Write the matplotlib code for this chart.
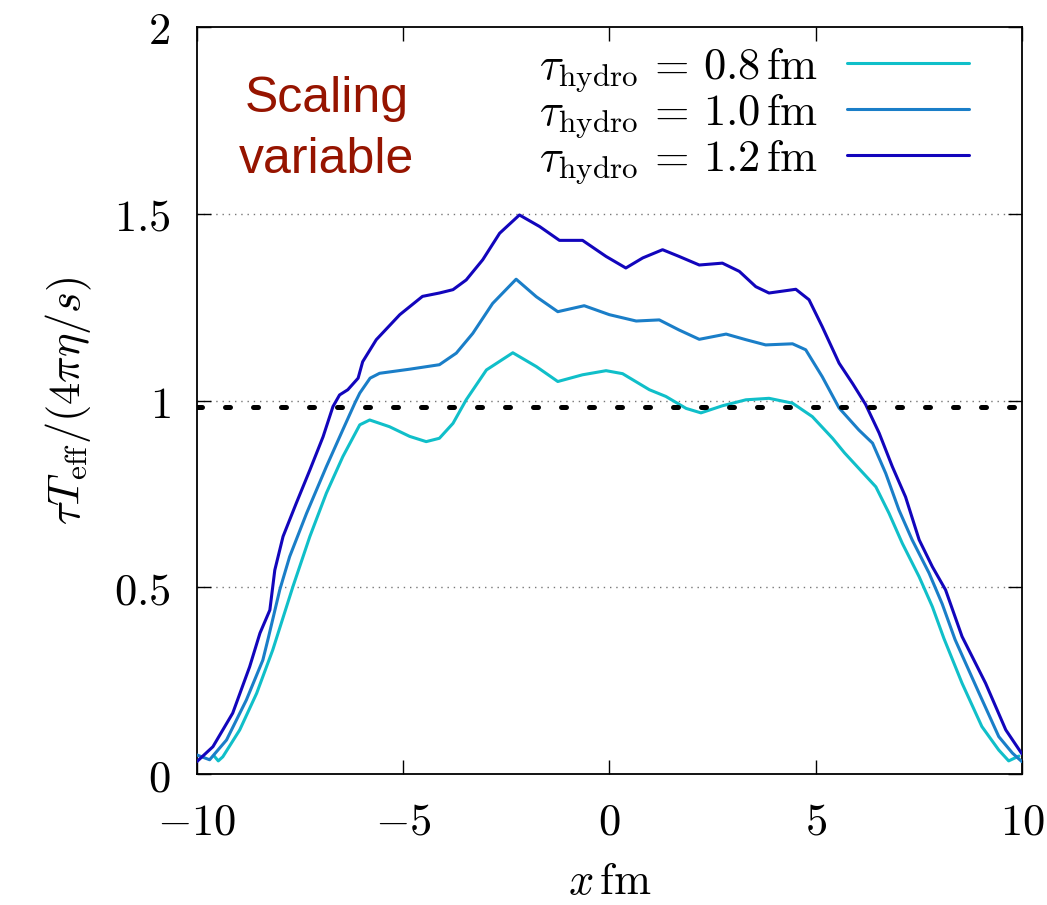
import matplotlib
matplotlib.use('Agg')
import matplotlib.pyplot as plt

plt.rcParams['mathtext.fontset'] = 'cm'
plt.rcParams['font.family'] = ['DejaVu Serif']

# tau_hydro = 0.8 fm
x_08 = [-9.58, -9.48, -9.37, -8.96, -8.55, -8.16, -7.67, -7.26, -6.86, -6.46, -6.05, -5.81,
        -5.33, -4.84, -4.44, -4.12, -3.79, -3.47, -2.98, -2.34, -1.77, -1.25, -0.65, -0.08,
        0.32, 0.97, 1.37, 1.86, 2.22, 2.74, 3.31, 3.87, 4.44, 4.92, 5.41, 5.70, 6.05, 6.46,
        6.78, 7.10, 7.51, 7.83, 8.11, 8.55, 9.03, 9.44, 9.68, 9.93]
y_08 = [0.048, 0.035, 0.046, 0.118, 0.216, 0.332, 0.502, 0.636, 0.752, 0.850, 0.935, 0.948,
        0.930, 0.904, 0.890, 0.899, 0.939, 1.002, 1.082, 1.128, 1.091, 1.051, 1.069, 1.080,
        1.072, 1.029, 1.011, 0.979, 0.967, 0.986, 1.002, 1.006, 0.993, 0.957, 0.899, 0.860,
        0.818, 0.769, 0.698, 0.618, 0.528, 0.448, 0.363, 0.243, 0.127, 0.064, 0.035, 0.048]

# tau_hydro = 1.0 fm
x_10 = [-10.0, -9.69, -9.28, -8.80, -8.40, -8.27, -7.99, -7.75, -7.34, -6.86, -6.46, -6.17,
        -6.05, -5.80, -5.57, -4.84, -4.12, -3.71, -3.31, -2.83, -2.26, -1.77, -1.25, -0.61,
        0.0, 0.65, 1.21, 1.69, 2.18, 2.83, 3.31, 3.79, 4.44, 4.76, 5.16, 5.57, 6.05, 6.38,
        6.70, 7.02, 7.34, 7.75, 8.07, 8.38, 8.96, 9.44, 9.77, 10.0]
y_10 = [0.051, 0.038, 0.091, 0.198, 0.305, 0.363, 0.493, 0.582, 0.698, 0.823, 0.922, 0.993,
        1.020, 1.060, 1.073, 1.084, 1.096, 1.127, 1.180, 1.260, 1.325, 1.278, 1.238, 1.254,
        1.230, 1.213, 1.216, 1.189, 1.164, 1.178, 1.163, 1.149, 1.152, 1.136, 1.064, 0.980,
        0.921, 0.886, 0.805, 0.707, 0.627, 0.538, 0.455, 0.360, 0.217, 0.100, 0.056, 0.033]

# tau_hydro = 1.2 fm
x_12 = [-10.0, -9.61, -9.13, -8.72, -8.47, -8.23, -8.11, -7.91, -7.59, -7.26, -6.94, -6.70,
        -6.54, -6.34, -6.09, -5.98, -5.65, -5.08, -4.53, -4.12, -3.79, -3.47, -3.07, -2.66,
        -2.18, -1.69, -1.21, -0.65, -0.08, 0.40, 0.81, 1.29, 1.69, 2.18, 2.74, 3.15, 3.55,
        3.87, 4.52, 4.84, 5.16, 5.57, 5.90, 6.21, 6.54, 6.86, 7.18, 7.51, 7.83, 8.15, 8.55,
        9.12, 9.61, 10.0]
y_12 = [0.033, 0.073, 0.163, 0.287, 0.377, 0.439, 0.546, 0.636, 0.725, 0.814, 0.903, 0.984,
        1.015, 1.029, 1.060, 1.104, 1.163, 1.230, 1.279, 1.288, 1.297, 1.323, 1.377, 1.448,
        1.497, 1.466, 1.429, 1.429, 1.386, 1.355, 1.382, 1.404, 1.386, 1.363, 1.368, 1.346,
        1.305, 1.288, 1.298, 1.270, 1.198, 1.100, 1.045, 0.990, 0.913, 0.823, 0.742, 0.627,
        0.555, 0.493, 0.368, 0.243, 0.118, 0.054]

ref_level = 0.982

labels = [r'$\tau_{\rm hydro}\,=\,0.8\,{\rm fm}$',
          r'$\tau_{\rm hydro}\,=\,1.0\,{\rm fm}$',
          r'$\tau_{\rm hydro}\,=\,1.2\,{\rm fm}$']
colors = ['#10bfc9', '#1a7ec8', '#1205bc']

xticks = [-10, -5, 0, 5, 10]
xticklabels = [r'$-10$', r'$-5$', r'$0$', r'$5$', r'$10$']
yticks = [0, 0.5, 1, 1.5, 2]
yticklabels = [r'$0$', r'$0.5$', r'$1$', r'$1.5$', r'$2$']

fig = plt.figure(figsize=(10.47, 9.05), dpi=100)
ax = fig.add_axes([0.188, 0.1448, 0.788, 0.8252])

for xs, ys, c, lab in zip([x_08, x_10, x_12], [y_08, y_10, y_12], colors, labels):
    ax.plot(xs, ys, color=c, lw=2.2, label=lab, zorder=3,
            solid_joinstyle='round', solid_capstyle='round')

ax.plot([-10, 10], [ref_level, ref_level], color='black', lw=3.6,
        dashes=(1, 4.6), dash_capstyle='round', zorder=4)

for yg in [0.5, 1.0, 1.5]:
    ax.axhline(yg, color='#777777', lw=1.0, ls=(0, (1, 3.5)), zorder=1)

ax.set_xlim(-10, 10)
ax.set_ylim(0, 2)
ax.set_xticks(xticks)
ax.set_xticklabels(xticklabels)
ax.set_yticks(yticks)
ax.set_yticklabels(yticklabels)
ax.tick_params(direction='in', length=10, width=1, top=True, right=True,
               labelsize=32, pad=19)
for sp in ax.spines.values():
    sp.set_linewidth(1.3)

ax.set_xlabel(r'$x\,{\rm fm}$', fontsize=32, labelpad=12)
ax.set_ylabel(r'$\tau T_{\rm eff}/(4\pi\eta/s)$', fontsize=32, labelpad=14)

ax.text(-6.85, 1.773, 'Scaling', color='#961400', fontsize=36, ha='center',
        va='baseline', family='Liberation Sans')
ax.text(-6.85, 1.610, 'variable', color='#961400', fontsize=36, ha='center',
        va='baseline', family='Liberation Sans')

ax.legend(loc='upper right', bbox_to_anchor=(0.936, 0.977), frameon=False,
          fontsize=32, markerfirst=False, handlelength=2.75, handletextpad=0.65,
          borderaxespad=0, borderpad=0, labelspacing=-0.08)

fig.savefig('out.png', dpi=100)
